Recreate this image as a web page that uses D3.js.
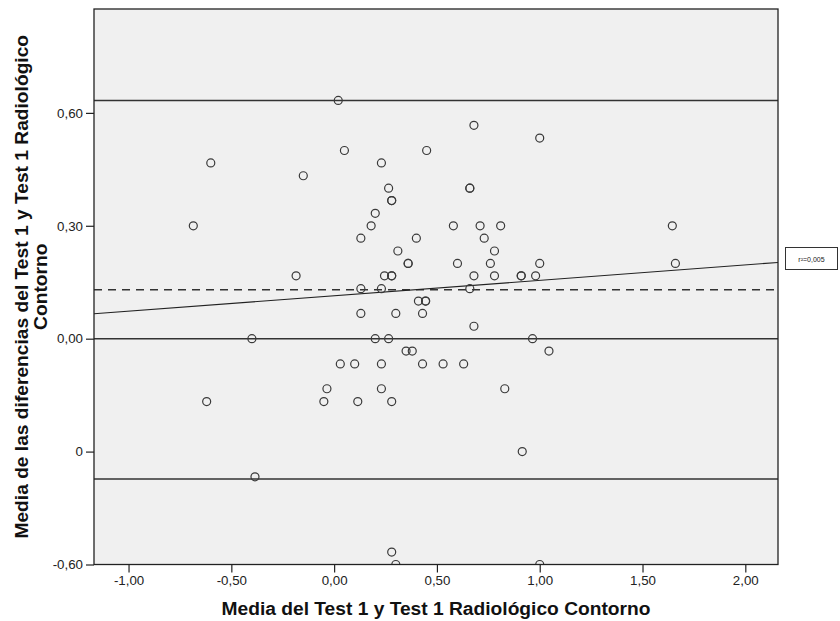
<!DOCTYPE html>
<html>
<head>
<meta charset="utf-8">
<script src="https://cdn.jsdelivr.net/npm/d3@7"></script>
<style>
  html, body { margin: 0; padding: 0; background: #ffffff; }
  svg { display: block; font-family: "Liberation Sans", Arial, sans-serif; }
</style>
</head>
<body>
<svg id="chart" width="840" height="621"></svg>
<script>
// ---- data ----
const meanValues = [
  0.02, -0.60, -0.685, 0.05, -0.15, 0.23, 0.45, 0.265, 0.28, 0.28,
  0.20, 0.18, 0.13, 0.40, 0.31, 0.36, 0.36, -0.185, 0.245, 0.28,
  0.28, 0.13, 0.23, 0.41, 0.445, 0.445, 0.13, 0.30, 0.43, 0.68,
  1.00, 0.66, 0.66, 0.58, 0.71, 0.81, 1.645, 0.73, 0.78, 0.60,
  0.76, 1.00, 1.66, 0.68, 0.78, 0.91, 0.91, 0.98, 0.66, 0.68,
  -0.40, 0.20, 0.265, 0.965, 0.35, 0.38, 1.045, 0.03, 0.10, 0.23,
  0.43, 0.53, 0.63, -0.035, 0.23, 0.83, -0.62, -0.05, 0.115, 0.28,
  -0.385, 0.915, 0.28, 0.30, 1.00
];
const diffValues = [
  0.633, 0.467, 0.30, 0.50, 0.433, 0.467, 0.50, 0.40, 0.367, 0.367,
  0.333, 0.30, 0.267, 0.267, 0.233, 0.20, 0.20, 0.167, 0.167, 0.167,
  0.167, 0.133, 0.133, 0.10, 0.10, 0.10, 0.067, 0.067, 0.067, 0.567,
  0.533, 0.40, 0.40, 0.30, 0.30, 0.30, 0.30, 0.267, 0.233, 0.20,
  0.20, 0.20, 0.20, 0.167, 0.167, 0.167, 0.167, 0.167, 0.133, 0.033,
  0.0, 0.0, 0.0, 0.0, -0.033, -0.033, -0.033, -0.067, -0.067, -0.067,
  -0.067, -0.067, -0.067, -0.133, -0.133, -0.133, -0.167, -0.167, -0.167, -0.167,
  -0.367, -0.30, -0.567, -0.60, -0.60
];
const meanDifference = 0.130;
const upperLimit = 0.633;
const lowerLimit = -0.373;
const zeroLine = 0.0;
const fitIntercept = 0.114;
const fitSlope = 0.041;
const fitLabel = "r\u00B2=0,005";

const xTickValues = [-1.0, -0.5, 0.0, 0.5, 1.0, 1.5, 2.0];
const xTickLabels = ["-1,00", "-0,50", "0,00", "0,50", "1,00", "1,50", "2,00"];
const yTickValues = [-0.6, -0.3, 0.0, 0.3, 0.6];
const yTickLabels = ["-0,60", "0", "0,00", "0,30", "0,60"];

const xTitle = "Media del Test 1 y Test 1 Radiológico Contorno";
const yTitleLines = ["Media de las diferencias del Test 1 y Test 1 Radiológico", "Contorno"];

// ---- layout ----
const svg = d3.select("#chart");
const pLeft = 94, pRight = 778, pTop = 9, pBottom = 564.5;

const x = d3.scaleLinear().domain([-1.168, 2.159]).range([pLeft, pRight]);
const y = d3.scaleLinear().domain([-0.6, 0.876]).range([pBottom, pTop]);

// plot background
svg.append("rect")
  .attr("x", pLeft).attr("y", pTop)
  .attr("width", pRight - pLeft).attr("height", pBottom - pTop)
  .attr("fill", "#f0f0f0");

svg.append("defs").append("clipPath").attr("id", "plotClip")
  .append("rect")
  .attr("x", pLeft).attr("y", pTop)
  .attr("width", pRight - pLeft).attr("height", pBottom - pTop);

const plot = svg.append("g").attr("clip-path", "url(#plotClip)");

// reference lines
[upperLimit, zeroLine, lowerLimit].forEach(v => {
  plot.append("line")
    .attr("x1", pLeft).attr("x2", pRight)
    .attr("y1", y(v)).attr("y2", y(v))
    .attr("stroke", "#333").attr("stroke-width", 1.5);
});
plot.append("line")
  .attr("x1", pLeft).attr("x2", pRight)
  .attr("y1", y(meanDifference)).attr("y2", y(meanDifference))
  .attr("stroke", "#333").attr("stroke-width", 1.5)
  .attr("stroke-dasharray", "8,6");

// fit line
const xd = x.domain();
plot.append("line")
  .attr("x1", x(xd[0])).attr("y1", y(fitIntercept + fitSlope * xd[0]))
  .attr("x2", x(xd[1])).attr("y2", y(fitIntercept + fitSlope * xd[1]))
  .attr("stroke", "#222").attr("stroke-width", 1.1);

// points
const pts = meanValues.map((m, i) => ({ m: m, d: diffValues[i] }));
plot.selectAll("circle.pt").data(pts).enter().append("circle")
  .attr("class", "pt")
  .attr("cx", p => x(p.m))
  .attr("cy", p => y(p.d))
  .attr("r", 4)
  .attr("fill", "none")
  .attr("stroke", "#3a3a3a")
  .attr("stroke-width", 1.2);

// frame
svg.append("rect")
  .attr("x", pLeft).attr("y", pTop)
  .attr("width", pRight - pLeft).attr("height", pBottom - pTop)
  .attr("fill", "none").attr("stroke", "#222").attr("stroke-width", 1.3);

// axes
const xAxis = d3.axisBottom(x)
  .tickValues(xTickValues)
  .tickFormat((d, i) => xTickLabels[i])
  .tickSize(8).tickPadding(3);
const gx = svg.append("g").attr("transform", `translate(0,${pBottom})`).call(xAxis);
gx.select(".domain").remove();
gx.selectAll(".tick line").attr("stroke", "#222").attr("stroke-width", 1.2);
gx.selectAll(".tick text")
  .attr("font-size", "13.3px").attr("fill", "#222")
  .attr("font-family", "Liberation Sans, Arial, sans-serif");

const yAxis = d3.axisLeft(y)
  .tickValues(yTickValues)
  .tickFormat((d, i) => yTickLabels[i])
  .tickSize(8).tickPadding(3);
const gy = svg.append("g").attr("transform", `translate(${pLeft},0)`).call(yAxis);
gy.select(".domain").remove();
gy.selectAll(".tick line").attr("stroke", "#222").attr("stroke-width", 1.2);
gy.selectAll(".tick text")
  .attr("font-size", "13.3px").attr("fill", "#222")
  .attr("font-family", "Liberation Sans, Arial, sans-serif");

// axis titles
svg.append("text")
  .attr("x", (pLeft + pRight) / 2).attr("y", 615)
  .attr("text-anchor", "middle")
  .attr("font-size", "19.2px").attr("font-weight", "bold").attr("fill", "#111")
  .text(xTitle);

const yTitle = svg.append("text")
  .attr("transform", `translate(0,${(pTop + pBottom) / 2}) rotate(-90)`)
  .attr("text-anchor", "middle")
  .attr("font-size", "19.2px").attr("font-weight", "bold").attr("fill", "#111");
yTitleLines.forEach((line, i) => {
  yTitle.append("tspan").attr("x", 0).attr("y", 28 + i * 19).text(line);
});

// r² label box
const box = svg.append("g");
box.append("rect")
  .attr("x", 785.5).attr("y", 247.5)
  .attr("width", 52).attr("height", 22)
  .attr("fill", "#ffffff").attr("stroke", "#333").attr("stroke-width", 1);
box.append("text")
  .attr("x", 811.5).attr("y", 261.5)
  .attr("text-anchor", "middle")
  .attr("font-size", "7px").attr("fill", "#222")
  .text(fitLabel);
</script>
</body>
</html>
